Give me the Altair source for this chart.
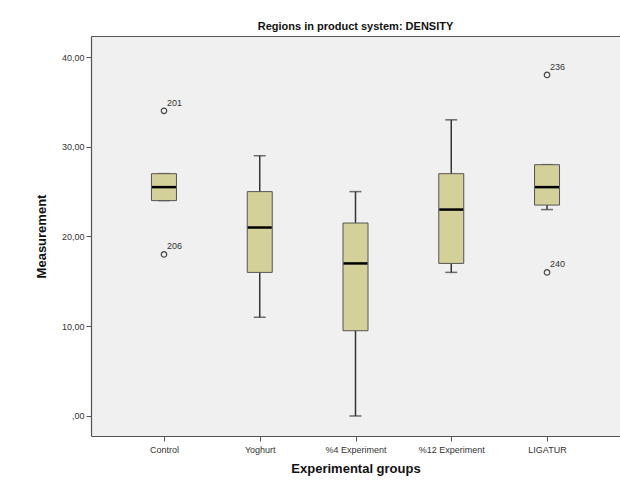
import altair as alt
import pandas as pd

# Five-number summaries per experimental group
groups = ["Control", "Yoghurt", "%4 Experiment", "%12 Experiment", "LIGATUR"]
whisker_low = [24.0, 11.0, 0.0, 16.0, 23.0]
q1 = [24.0, 16.0, 9.5, 17.0, 23.5]
median = [25.5, 21.0, 17.0, 23.0, 25.5]
q3 = [27.0, 25.0, 21.5, 27.0, 28.0]
whisker_high = [27.0, 29.0, 25.0, 33.0, 28.0]

# Outlying cases with their case numbers
outlier_group = ["Control", "Control", "LIGATUR", "LIGATUR"]
outlier_value = [34.0, 18.0, 38.0, 16.0]
outlier_case = ["201", "206", "236", "240"]

stats = pd.DataFrame({
    "group": groups, "lo": whisker_low, "q1": q1, "med": median,
    "q3": q3, "hi": whisker_high,
})
outliers = pd.DataFrame({
    "group": outlier_group, "value": outlier_value, "case": outlier_case,
})

font = "Liberation Sans"
ink = "#333333"
frame = "#555555"

x_scale = alt.Scale(type="point", padding=0.762)
x = alt.X(
    "group:N", sort=groups, scale=x_scale,
    axis=alt.Axis(
        title="Experimental groups", titleFont=font, titleFontSize=13,
        titleFontWeight="bold", titleColor="#111111", titlePadding=8,
        labelFont=font, labelFontSize=9, labelColor=ink, labelAngle=0,
        labelPadding=4, tickSize=5, tickColor=frame, domain=True,
        domainColor=frame, domainWidth=1.2, grid=False,
    ),
)
# Top frame line of the plot area (no ticks or labels)
x_top = alt.X(
    "group:N", sort=groups, scale=x_scale,
    axis=alt.Axis(
        orient="top", title=None, labels=False, ticks=False, domain=True,
        domainColor=frame, domainWidth=1.2, grid=False,
    ),
)
x_plain = alt.X("group:N", sort=groups, scale=x_scale, axis=None)

y_scale = alt.Scale(domain=[-2.23, 42.34], nice=False, zero=False)
y_axis = alt.Axis(
    title="Measurement", titleFont=font, titleFontSize=13,
    titleFontWeight="bold", titleColor="#111111", titlePadding=13,
    labelFont=font, labelFontSize=9, labelColor=ink, labelPadding=2,
    values=[0, 10, 20, 30, 40], tickSize=5, tickColor=frame,
    domain=True, domainColor=frame, domainWidth=1.2, grid=False,
    labelExpr="datum.value == 0 ? ',00' : replace(format(datum.value, '.2f'), '.', ',')",
)

base = alt.Chart(stats)

whisker = base.mark_rule(color="#333333", strokeWidth=1.5).encode(
    x=x,
    y=alt.Y("lo:Q", scale=y_scale, axis=y_axis),
    y2="hi:Q",
)
caps_low = base.mark_tick(color="#333333", size=12, thickness=1.5).encode(
    x=x_plain, y=alt.Y("lo:Q", scale=y_scale)
)
caps_high = base.mark_tick(color="#333333", size=12, thickness=1.5).encode(
    x=x_top, y=alt.Y("hi:Q", scale=y_scale)
)
box = base.mark_bar(
    size=25, color="#d4d09a", stroke="#555555", strokeWidth=1
).encode(
    x=x_plain, y=alt.Y("q1:Q", scale=y_scale), y2="q3:Q"
)
mid = base.mark_tick(color="#000000", size=24, thickness=2.5, opacity=1).encode(
    x=x_plain, y=alt.Y("med:Q", scale=y_scale)
)

out_base = alt.Chart(outliers)
out_pts = out_base.mark_point(
    shape="circle", size=30, filled=False, color="#444444", strokeWidth=1.2,
    opacity=1,
).encode(x=x_plain, y=alt.Y("value:Q", scale=y_scale))
out_txt = out_base.mark_text(
    align="left", baseline="bottom", dx=3, dy=-3, font=font, fontSize=9,
    color=ink,
).encode(x=x_plain, y=alt.Y("value:Q", scale=y_scale), text="case:N")

chart = (
    alt.layer(whisker, caps_low, caps_high, box, mid, out_pts, out_txt)
    .resolve_axis(x="independent")
    .properties(
        width=529, height=400,
        title=alt.TitleParams(
            "Regions in product system: DENSITY", font=font, fontSize=11,
            fontWeight="bold", color="#111111", anchor="middle", offset=4,
        ),
        autosize=alt.AutoSizeParams(type="none"),
        padding={"left": 91, "top": 36, "right": 0, "bottom": 46},
        background="#ffffff",
    )
    .configure_view(fill="#f0f0f0", stroke=None)
)

chart.save("out.html", embed_options={"renderer": "svg", "actions": False})
